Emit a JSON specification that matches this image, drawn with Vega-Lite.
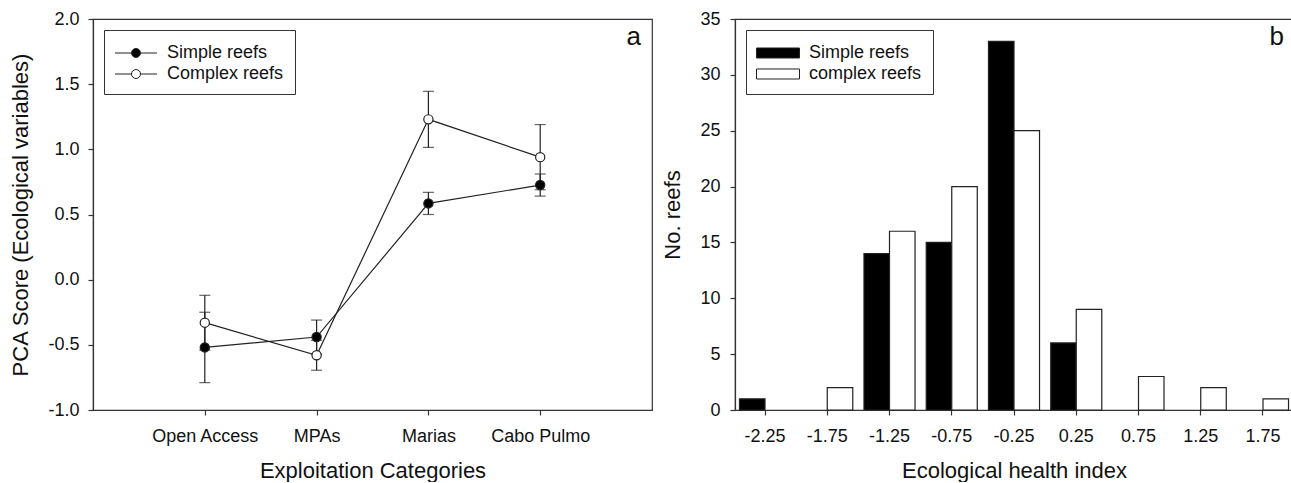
{
  "$schema": "https://vega.github.io/schema/vega-lite/v6.json",
  "padding": {"left": 9, "top": 9, "right": 0, "bottom": 0},
  "spacing": 8,
  "config": {
    "font": "Liberation Sans",
    "view": {"stroke": "#333", "strokeWidth": 1.2},
    "axis": {
      "grid": false, "domainColor": "#333", "tickColor": "#333", "domainWidth": 1.2, "tickWidth": 1.2, "tickSize": 5,
      "labelFontSize": 18, "labelColor": "#111", "titleFontSize": 22, "titleFontWeight": "normal", "titleColor": "#111",
      "labelFont": "Liberation Sans", "titleFont": "Liberation Sans"
    },
    "legend": {
      "title": null, "orient": "top-left", "offset": 11, "padding": 11, "rowPadding": -3,
      "symbolSize": 529, "symbolOffset": 9, "labelOffset": 19, "labelFontSize": 18, "labelColor": "#111",
      "labelFont": "Liberation Sans", "strokeColor": "#333", "fillColor": "#fff",
      "symbolStrokeColor": "#222", "symbolStrokeWidth": 1
    },
    "title": {"fontSize": 26, "fontWeight": "normal", "anchor": "end", "frame": "group", "offset": -40, "color": "#111", "font": "Liberation Sans"}
  },
  "resolve": {"scale": {"fill": "independent", "x": "independent", "y": "independent"}, "legend": {"fill": "independent"}},
  "hconcat": [
    {
      "width": 559, "height": 391,
      "title": {"text": "a", "dx": -11},
      "data": {"values": [
        {"category": "Open Access", "series": "Simple reefs", "mean": -0.52, "err": 0.27},
        {"category": "Open Access", "series": "Complex reefs", "mean": -0.33, "err": 0.21},
        {"category": "MPAs", "series": "Simple reefs", "mean": -0.44, "err": 0.13},
        {"category": "MPAs", "series": "Complex reefs", "mean": -0.58, "err": 0.115},
        {"category": "Marias", "series": "Simple reefs", "mean": 0.585, "err": 0.085},
        {"category": "Marias", "series": "Complex reefs", "mean": 1.23, "err": 0.215},
        {"category": "Cabo Pulmo", "series": "Simple reefs", "mean": 0.726, "err": 0.085},
        {"category": "Cabo Pulmo", "series": "Complex reefs", "mean": 0.94, "err": 0.25}
      ]},
      "encoding": {
        "x": {"field": "category", "type": "ordinal", "sort": ["Open Access", "MPAs", "Marias", "Cabo Pulmo"],
              "scale": {"type": "point", "padding": 1},
              "axis": {"title": "Exploitation Categories", "labelAngle": 0, "labelPadding": 12, "titlePadding": 15}},
        "y": {"field": "mean", "type": "quantitative", "scale": {"domain": [-1, 2], "nice": false, "zero": false},
              "axis": {"title": "PCA Score (Ecological variables)", "values": [-1, -0.5, 0, 0.5, 1, 1.5, 2],
                       "labelExpr": "replace(format(datum.value, '.1f'), '\u2212', '-')", "labelPadding": 9, "titlePadding": 15}}
      },
      "layer": [
        {
          "mark": {"type": "errorbar", "ticks": true, "size": 11, "thickness": 1.2, "color": "#222"},
          "encoding": {"yError": {"field": "err"}, "detail": {"field": "series"}}
        },
        {
          "mark": {"type": "line", "color": "#222", "strokeWidth": 1.2},
          "encoding": {"detail": {"field": "series"}}
        },
        {
          "mark": {"type": "circle", "size": 85, "stroke": "#222", "strokeWidth": 1.2, "opacity": 1},
          "encoding": {
            "fill": {"field": "series", "type": "nominal",
                     "scale": {"domain": ["Simple reefs", "Complex reefs"], "range": ["#000000", "#ffffff"]},
                     "legend": {"symbolType": "M-1.826,0H-0.391A0.391,0.391,0,1,1,0.391,0A0.391,0.391,0,1,1,-0.391,0M0.391,0H1.826"}}
          }
        }
      ]
    },
    {
      "width": 558, "height": 391,
      "title": {"text": "b", "dx": -9},
      "data": {"values": [
        {"bin": "-2.25", "reef": "Simple reefs", "count": 1},
        {"bin": "-1.75", "reef": "complex reefs", "count": 2},
        {"bin": "-1.25", "reef": "Simple reefs", "count": 14},
        {"bin": "-1.25", "reef": "complex reefs", "count": 16},
        {"bin": "-0.75", "reef": "Simple reefs", "count": 15},
        {"bin": "-0.75", "reef": "complex reefs", "count": 20},
        {"bin": "-0.25", "reef": "Simple reefs", "count": 33},
        {"bin": "-0.25", "reef": "complex reefs", "count": 25},
        {"bin": "0.25", "reef": "Simple reefs", "count": 6},
        {"bin": "0.25", "reef": "complex reefs", "count": 9},
        {"bin": "0.75", "reef": "complex reefs", "count": 3},
        {"bin": "1.25", "reef": "complex reefs", "count": 2},
        {"bin": "1.75", "reef": "complex reefs", "count": 1}
      ]},
      "mark": {"type": "bar", "stroke": "#222", "strokeWidth": 1.2},
      "encoding": {
        "x": {"field": "bin", "type": "ordinal",
              "sort": ["-2.25", "-1.75", "-1.25", "-0.75", "-0.25", "0.25", "0.75", "1.25", "1.75"],
              "scale": {"domain": ["-2.25", "-1.75", "-1.25", "-0.75", "-0.25", "0.25", "0.75", "1.25", "1.75"], "paddingInner": 0.18, "paddingOuter": 0.072},
              "axis": {"title": "Ecological health index", "labelAngle": 0, "labelPadding": 12, "titlePadding": 15}},
        "xOffset": {"field": "reef", "type": "nominal", "scale": {"domain": ["Simple reefs", "complex reefs"], "paddingInner": 0, "paddingOuter": 0}},
        "y": {"field": "count", "type": "quantitative", "scale": {"domain": [0, 35], "nice": false},
              "axis": {"title": "No. reefs", "values": [0, 5, 10, 15, 20, 25, 30, 35], "labelPadding": 10, "titlePadding": 15}},
        "fill": {"field": "reef", "type": "nominal",
                 "scale": {"domain": ["Simple reefs", "complex reefs"], "range": ["#000000", "#ffffff"]},
                 "legend": {"symbolType": "M-1.87,-0.435H1.87V0.435H-1.87Z"}}
      }
    }
  ]
}
